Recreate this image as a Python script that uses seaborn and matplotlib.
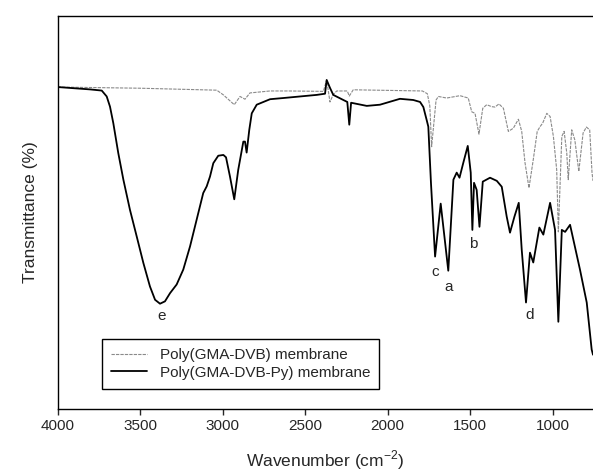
import numpy as np
import pandas as pd
import matplotlib
matplotlib.use("Agg")
import matplotlib.pyplot as plt
import seaborn as sns

# Poly(GMA-DVB-Py) membrane (solid black)
py_wn = [4000, 3804, 3733, 3703, 3683, 3663, 3633, 3602, 3562, 3521, 3481, 3441, 3410,
         3380, 3350, 3319, 3279, 3239, 3198, 3158, 3118, 3097, 3077, 3057, 3027, 2996,
         2980, 2956, 2930, 2906, 2875, 2865, 2855, 2839, 2824, 2794, 2713, 2633, 2430,
         2380, 2370, 2350, 2330, 2269, 2245, 2233, 2222, 2127, 2047, 1926, 1845, 1804,
         1784, 1764, 1754, 1738, 1713, 1679, 1633, 1602, 1582, 1565, 1542, 1515, 1497,
         1487, 1477, 1461, 1444, 1424, 1380, 1339, 1309, 1279, 1259, 1232, 1206, 1188,
         1162, 1138, 1118, 1081, 1057, 1016, 986, 966, 945, 925, 895, 835, 794, 764, 756]
py_t = [81.9, 81.3, 81.0, 79.5, 76.9, 72.7, 65.1, 58.3, 50.6, 43.8, 37.1, 31.1, 27.7,
        26.7, 27.3, 29.4, 31.6, 35.4, 41.3, 48.1, 54.9, 56.6, 59.1, 62.5, 64.4, 64.6,
        64.0, 59.1, 53.3, 60.8, 68.0, 68.0, 65.2, 71.0, 75.2, 77.4, 78.8, 79.1, 79.9,
        80.2, 83.7, 81.7, 79.9, 78.6, 78.1, 72.3, 77.9, 77.1, 77.4, 78.9, 78.6, 78.1,
        76.8, 73.5, 71.8, 57.5, 38.7, 52.2, 35.1, 58.3, 60.1, 58.8, 62.6, 66.9, 60.1,
        45.5, 57.5, 55.7, 46.3, 57.8, 58.8, 58.0, 56.5, 48.9, 44.8, 48.9, 52.4, 40.5,
        27.0, 39.7, 37.2, 46.1, 44.3, 52.4, 45.5, 22.1, 45.5, 45.0, 46.8, 35.4, 27.0, 15.0, 13.7]

# Poly(GMA-DVB) membrane (thin grey dashed)
gd_wn = [4000, 3500, 3036, 2996, 2930, 2895, 2865, 2835, 2713, 2600, 2390, 2370, 2350,
         2330, 2309, 2245, 2233, 2209, 1790, 1760, 1745, 1734, 1707, 1693, 1643, 1562,
         1512, 1491, 1471, 1447, 1424, 1400, 1370, 1350, 1326, 1299, 1269, 1239, 1208,
         1188, 1168, 1144, 1118, 1094, 1077, 1061, 1036, 1016, 996, 976, 966, 945, 931,
         915, 906, 885, 866, 842, 816, 796, 776, 762, 756]
gd_t = [81.9, 81.6, 81.1, 79.9, 77.4, 79.5, 78.8, 80.4, 80.9, 80.9, 80.8, 83.7, 78.1,
        80.0, 80.9, 80.9, 79.6, 81.2, 80.9, 80.2, 77.1, 66.7, 78.6, 79.5, 79.1, 79.7,
        79.1, 75.6, 75.2, 69.9, 76.5, 77.4, 76.9, 76.8, 77.6, 76.5, 70.6, 71.4, 73.7,
        70.6, 62.6, 56.2, 63.4, 70.6, 71.8, 72.7, 75.2, 74.4, 69.3, 60.8, 45.0, 69.3, 70.6,
        65.1, 58.3, 71.0, 68.4, 60.4, 70.2, 71.7, 71.0, 60.1, 58.0]

series_names = ["Poly(GMA-DVB) membrane", "Poly(GMA-DVB-Py) membrane"]
peak_labels = ["c", "a", "b", "d", "e"]
peak_wn = [1713, 1630, 1484, 1138, 3370]
peak_t = [34.7, 31.0, 42.0, 23.7, 23.5]
xticks = [4000, 3500, 3000, 2500, 2000, 1500, 1000]

sns.set_style("ticks")
plt.rcParams["font.family"] = ["Liberation Sans", "DejaVu Sans"]
plt.rcParams["mathtext.fontset"] = "custom"
plt.rcParams["mathtext.rm"] = "Liberation Sans"

fig = plt.figure(figsize=(5.93, 4.73), dpi=100)
ax = fig.add_axes([57.7 / 593, (473 - 408.5) / 473, (593 - 57.7) / 593, (408.5 - 16) / 473])

df_g = pd.DataFrame({"wn": gd_wn, "T": gd_t})
df_p = pd.DataFrame({"wn": py_wn, "T": py_t})
sns.lineplot(data=df_g, x="wn", y="T", ax=ax, color="#8a8a8a", lw=0.8,
             linestyle=(0, (3, 1)), label=series_names[0], sort=False)
sns.lineplot(data=df_p, x="wn", y="T", ax=ax, color="black", lw=1.3,
             label=series_names[1], sort=False)

for lab, x, y in zip(peak_labels, peak_wn, peak_t):
    ax.text(x, y, lab, fontsize=11, ha="center", va="center")

ax.set_xlim(4000, 756)
ax.set_ylim(0, 100)
ax.set_xticks(xticks)
ax.set_xticklabels([str(t) for t in xticks], fontsize=11)
ax.set_yticks([])
ax.tick_params(axis="x", direction="out", length=4, width=1)
for s in ["left", "bottom", "top"]:
    ax.spines[s].set_visible(True)
    ax.spines[s].set_linewidth(1.0)
    ax.spines[s].set_color("black")
ax.spines["right"].set_visible(False)

ax.set_xlabel("Wavenumber (cm$^{-2}$)", fontsize=12.5, labelpad=11)
ax.set_ylabel("Transmittance (%)", fontsize=12.5, labelpad=14)

leg = ax.legend(loc="lower left", bbox_to_anchor=(0.082, 0.05), fontsize=11,
                frameon=True, fancybox=False, edgecolor="black", framealpha=1,
                handlelength=2.4, handletextpad=0.8, borderpad=0.6, labelspacing=0.25,
                borderaxespad=0)
leg.get_frame().set_linewidth(1.0)

fig.savefig("out.png", dpi=100)
